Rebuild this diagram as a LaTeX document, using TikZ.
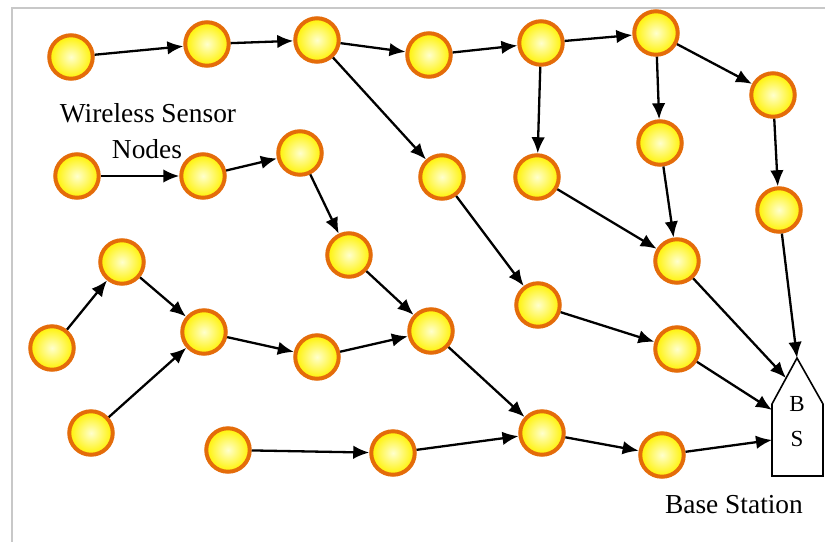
\documentclass[tikz,border=0pt]{standalone}
\usepackage{fontspec}
\setmainfont{Liberation Serif}
\usetikzlibrary{arrows.meta}
\definecolor{ringorange}{RGB}{228,108,10}
\definecolor{sunyellow}{RGB}{255,242,0}
\definecolor{sunpale}{RGB}{255,255,205}
\definecolor{framegray}{RGB}{200,200,200}
\begin{document}
\begin{tikzpicture}[x=1pt,y=-1pt,
  sensor/.style={circle,draw=ringorange,line width=4pt,minimum size=43.5pt,
    inner sep=0pt,inner color=sunpale,outer color=sunyellow},
  link/.style={line width=2.3pt,-{Latex[length=16pt,width=13.5pt]}},
  label/.style={font=\fontsize{27.4}{32}\selectfont,anchor=base,inner sep=0pt}]
\useasboundingbox (0,0) rectangle (825,542);
% frame
\draw[framegray,line width=2pt] (825,8) -- (12,8) -- (12,542);

% sensor nodes
\node[sensor] (n1)  at (71,57)   {};
\node[sensor] (n2)  at (207,44)  {};
\node[sensor] (n3)  at (317,40)  {};
\node[sensor] (n4)  at (429,55)  {};
\node[sensor] (n5)  at (541,43)  {};
\node[sensor] (n6)  at (656,33)  {};
\node[sensor] (n7)  at (773,95)  {};
\node[sensor] (n8)  at (660,143) {};
\node[sensor] (n9)  at (537,177) {};
\node[sensor] (n10) at (442,177) {};
\node[sensor] (n11) at (300,153) {};
\node[sensor] (n12) at (203,176) {};
\node[sensor] (n13) at (77,176)  {};
\node[sensor] (n14) at (779,210) {};
\node[sensor] (n15) at (677,261) {};
\node[sensor] (n16) at (349,255) {};
\node[sensor] (n17) at (122,262) {};
\node[sensor] (n18) at (538,305) {};
\node[sensor] (n19) at (431,331) {};
\node[sensor] (n20) at (204,332) {};
\node[sensor] (n21) at (317,357) {};
\node[sensor] (n22) at (52,348)  {};
\node[sensor] (n23) at (677,349) {};
\node[sensor] (n24) at (91,433)  {};
\node[sensor] (n25) at (228,450) {};
\node[sensor] (n26) at (393,453) {};
\node[sensor] (n27) at (542,433) {};
\node[sensor] (n28) at (662,455) {};

% base station
\node[font=\fontsize{23}{35}\selectfont,align=center,inner sep=0pt] (bs) at (797,422) {B\\S};
\coordinate (bsTop) at (797,358);
\coordinate (bsSlant) at (786,378);
\coordinate (bsMid) at (772,410);
\coordinate (bsLow) at (772,440);
\draw[line width=1.6pt,line join=miter] (772,476) -- (772,404) -- (bsTop) -- (823,404) -- (823,476) -- cycle;

% labels
\node[label] (lw) at (148,122) {Wireless Sensor};
\node[label] (ln) at (147,158) {Nodes};
\node[label] (lb) at (734,513) {Base Station};

% routes
\draw[link] (n1) -- (n2);
\draw[link] (n2) -- (n3);
\draw[link] (n3) -- (n4);
\draw[link] (n4) -- (n5);
\draw[link] (n5) -- (n6);
\draw[link] (n6) -- (n7);
\draw[link] (n6) -- (n8);
\draw[link] (n5) -- (n9);
\draw[link] (n3) -- (n10);
\draw[link] (n13) -- (n12);
\draw[link] (n12) -- (n11);
\draw[link] (n11) -- (n16);
\draw[link] (n7) -- (n14);
\draw[link] (n14) -- (bsTop);
\draw[link] (n8) -- (n15);
\draw[link] (n9) -- (n15);
\draw[link] (n10) -- (n18);
\draw[link] (n16) -- (n19);
\draw[link] (n15) -- (bsSlant);
\draw[link] (n18) -- (n23);
\draw[link] (n23) -- (bsMid);
\draw[link] (n22) -- (n17);
\draw[link] (n17) -- (n20);
\draw[link] (n24) -- (n20);
\draw[link] (n20) -- (n21);
\draw[link] (n21) -- (n19);
\draw[link] (n19) -- (n27);
\draw[link] (n25) -- (n26);
\draw[link] (n26) -- (n27);
\draw[link] (n27) -- (n28);
\draw[link] (n28) -- (bsLow);
\end{tikzpicture}
\end{document}
